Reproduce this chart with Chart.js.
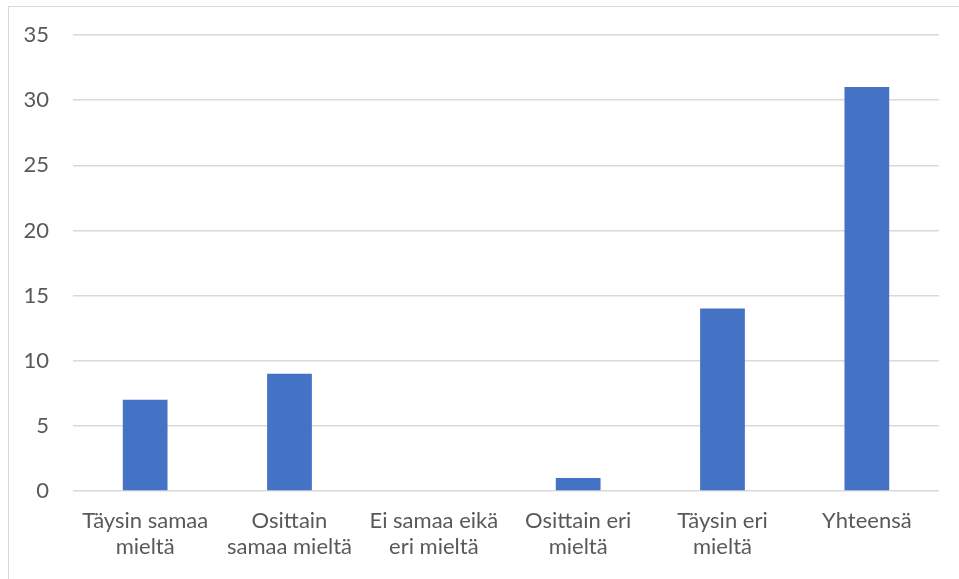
<!DOCTYPE html>
<html lang="fi">
<head>
  <meta charset="UTF-8">
  <title>Vastaukset</title>
  <script src="https://cdn.jsdelivr.net/npm/chart.js"></script>
  <style>
    body {
      margin: 0;
      background: #ffffff;
      overflow: hidden;
    }
    /* kehys kaavion ympärillä */
    .frame {
      position: absolute;
      left: 8px;
      top: 6px;
      width: 1000px;
      height: 700px;
      border: 1px solid #d9d9d9;
    }
    .wrap {
      position: absolute;
      left: 0;
      top: 0;
      width: 959px;
      height: 579px;
    }
  </style>
</head>
<body>
  <div class="frame"></div>
  <div class="wrap"><canvas id="chart"></canvas></div>

  <script>
    // Data
    const categories = [
      ["Täysin samaa", "mieltä"],
      ["Osittain", "samaa mieltä"],
      ["Ei samaa eikä", "eri mieltä"],
      ["Osittain eri", "mieltä"],
      ["Täysin eri", "mieltä"],
      "Yhteensä"
    ];
    const values = [7, 9, 0, 1, 14, 31];
    const yTicks = [0, 5, 10, 15, 20, 25, 30, 35];

    const fontFamily = "Lato, 'Open Sans', sans-serif";

    const ctx = document.getElementById("chart").getContext("2d");
    new Chart(ctx, {
      type: "bar",
      data: {
        labels: categories,
        datasets: [{
          data: values,
          backgroundColor: "#4472C4",
          borderWidth: 0,
          barPercentage: 1,
          categoryPercentage: 0.31
        }]
      },
      options: {
        responsive: true,
        maintainAspectRatio: false,
        animation: false,
        layout: {
          padding: { top: 35, right: 20, bottom: 0, left: 0 }
        },
        plugins: {
          legend: { display: false },
          tooltip: { enabled: false }
        },
        scales: {
          x: {
            grid: { display: false, drawTicks: false },
            border: { display: false },
            ticks: {
              color: "#595959",
              font: { family: fontFamily, size: 22, lineHeight: 1.18 },
              padding: 17,
              maxRotation: 0,
              autoSkip: false
            },
            afterFit: (scale) => { scale.height = 88; }
          },
          y: {
            min: 0,
            max: 35,
            grid: { color: "#d9d9d9", lineWidth: 1.5, drawTicks: false },
            border: { display: false },
            afterBuildTicks: (scale) => {
              scale.ticks = yTicks.map(v => ({ value: v }));
            },
            ticks: {
              color: "#595959",
              // pieni lineHeight, ettei akseli työnnä kaavioaluetta alas
              font: { family: fontFamily, size: 22, lineHeight: 0.9 },
              padding: 24
            },
            afterFit: (scale) => { scale.width = 73; }
          }
        }
      }
    });
  </script>
</body>
</html>
